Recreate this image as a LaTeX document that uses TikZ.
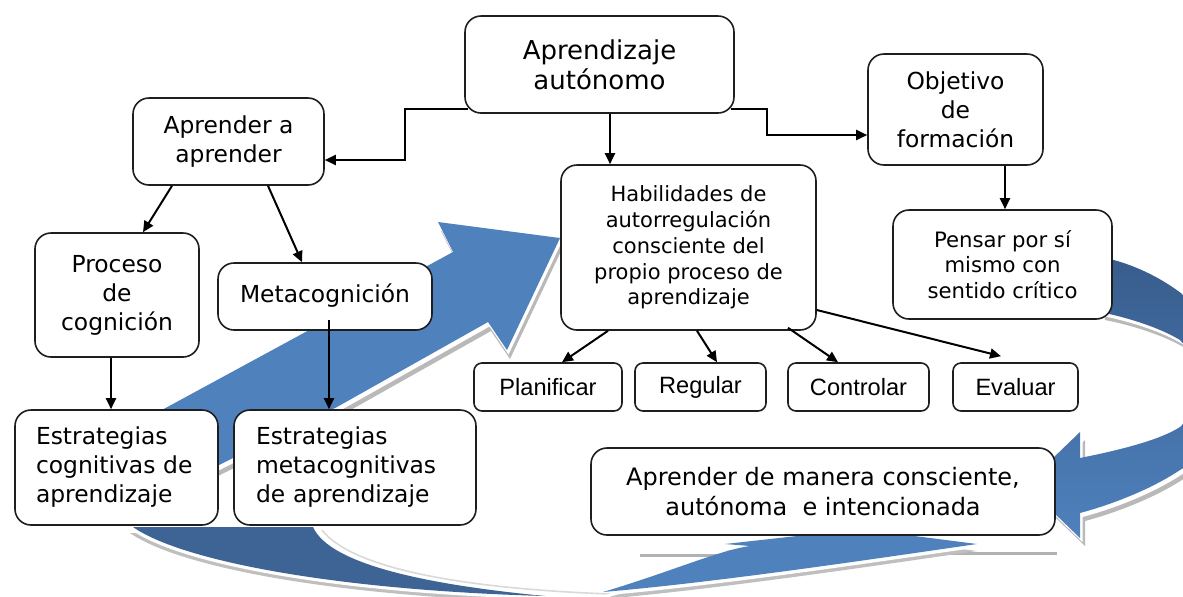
\documentclass[tikz,border=0pt]{standalone}
\usepackage{fontspec}
\setmainfont{DejaVu Sans}
\newfontfamily\arialf{Liberation Sans}
\usetikzlibrary{arrows.meta,calc}
\definecolor{blueA}{RGB}{79,129,189}
\definecolor{blueDark}{RGB}{56,92,140}
\definecolor{blueMid}{RGB}{62,100,150}
\definecolor{edgec}{RGB}{30,30,30}
\begin{document}
\begin{tikzpicture}[x=0.5pt,y=-0.5pt,
  box/.style={draw=edgec, line width=0.8pt, fill=white, rounded corners=8pt, inner sep=0pt, align=center, font=\fontsize{11.7}{14.5}\selectfont},
  small/.style={box, rounded corners=4pt, minimum height=24pt, font=\arialf\fontsize{11.8}{14}\selectfont},
  conn/.style={line width=1pt, -{Triangle[length=5.5pt,width=5pt]}},
  pathA/.style={insert path={(133,527) .. controls (180,560) and (330,590) .. (545,596) .. controls (430,585) and (330,565) .. (313,527) -- cycle}},
  pathB/.style={insert path={(603,592) .. controls (670,572) and (720,550) .. (750,546) -- (725,544) -- (860,529) -- (977,544) .. controls (880,558) and (720,582) .. (603,592) -- cycle}},
  pathC/.style={insert path={(125,430) -- (453,252) -- (438,222) -- (560,238) -- (507,350) -- (488,322) -- (337,407) -- (225,462) -- (160,495) -- cycle}},
  pathD/.style={insert path={(1095,256) .. controls (1160,266) and (1235,320) .. (1235,385) .. controls (1235,430) and (1200,460) .. (1180,470) .. controls (1150,490) and (1110,505) .. (1080,513) -- (1080,538) -- (1025,485) -- (1080,432) -- (1080,458) .. controls (1120,450) and (1160,440) .. (1180,427) .. controls (1200,410) and (1200,360) .. (1180,340) .. controls (1160,328) and (1130,318) .. (1100,312) -- cycle}}
]
\useasboundingbox (0,0) rectangle (1183,596);
\clip (0,0) rectangle (1183,596);
% blue circular arrows
\draw[gray!30, line width=0.8pt] (322,530) .. controls (350,566) and (450,588) .. (610,594);
\fill[gray!50, shift={(-3,6)}, pathA];
\fill[white, shift={(-1.5,3)}, pathA];
\fill[blueMid, pathA];
\draw[gray!60, line width=1.5pt] (640,555) -- (740,555);
\draw[gray!60, line width=1.5pt] (937,553) -- (1057,553);
\fill[gray!50, shift={(0,7)}, pathB];
\fill[white, shift={(0,3.5)}, pathB];
\fill[blueA, pathB];
\fill[gray!55, shift={(3,9)}, pathC];
\fill[white, shift={(1.5,4.5)}, pathC];
\fill[blueA, pathC];
\fill[gray!55, shift={(5,8)}, pathD];
\fill[white, shift={(2.5,4)}, pathD];
\shade[top color=blueDark, bottom color=blueA, pathD];
% nodes
\node[box, minimum width=134.5pt, minimum height=48.5pt, font=\fontsize{13}{15}\selectfont] (auto) at (599.5,64.5) {Aprendizaje\\autónomo};
\node[box, minimum width=95.5pt, minimum height=43.5pt] (apr) at (228.5,141.5) {Aprender a\\aprender};
\node[box, minimum width=87.5pt, minimum height=55.5pt] (obj) at (955.5,109.5) {Objetivo\\de\\formación};
\node[box, minimum width=127.5pt, minimum height=82.5pt, font=\fontsize{10.5}{12.9}\selectfont] (hab) at (688.5,247.5) {Habilidades de\\autorregulación\\consciente del\\propio proceso de\\aprendizaje};
\node[box, minimum width=109.5pt, minimum height=54.5pt, font=\fontsize{10.6}{12.8}\selectfont] (pen) at (1002.5,264.5) {Pensar por sí\\mismo con\\sentido crítico};
\node[box, minimum width=82pt, minimum height=62pt] (pro) at (117,295) {Proceso\\de\\cognición};
\node[box, minimum width=107pt, minimum height=33.5pt] (met) at (325,296.5) {\raisebox{3pt}{Metacognición}};
\node[box, text width=80.5pt, inner xsep=10.5pt, minimum height=57.5pt, align=left] (ecog) at (116.5,467.5) {Estrategias\\cognitivas de\\aprendizaje};
\node[box, text width=99pt, inner xsep=11pt, minimum height=57.5pt, align=left] (emet) at (355,467.5) {Estrategias\\metacognitivas\\de aprendizaje};
\node[small, minimum width=74pt] (pla) at (548,387) {Planificar};
\node[small, minimum width=65.5pt] (reg) at (700.5,387) {Regular};
\node[small, minimum width=70.5pt] (con) at (858.5,387) {Controlar};
\node[small, minimum width=62.5pt] (eva) at (1015.5,387) {Evaluar};
\node[box, minimum width=232pt, minimum height=43.5pt, font=\fontsize{12}{15}\selectfont] (man) at (823,491.5) {Aprender de manera consciente,\\autónoma\ \ e intencionada};
% connectors
\draw[conn] ($(auto.south west)+(4,-5)$) -- ++(-63,0) |- ($(apr.east)+(0,18.5)$);
\draw[conn] ($(auto.south east)+(-4,-5)$) -- ++(36,0) |- ($(obj.west)+(0,25.5)$);
\draw[conn] ($(auto.south)+(10.5,0)$) -- ($(hab.north)+(-78.5,0)$);
\draw[conn] ($(obj.south)+(49.5,0)$) -- ($(pen.north)+(2.5,0)$);
\draw[conn] ($(apr.south)+(-56.5,0)$) -- ($(pro.north)+(26,0)$);
\draw[conn] ($(apr.south)+(39.5,0)$) -- ($(met.north)+(-23,0)$);
\draw[conn] ($(pro.south)+(-6,0)$) -- ($(ecog.north)+(-5.5,0)$);
\draw[conn] ($(met.south)+(4,-11)$) -- ($(emet.north)+(-26,0)$);
\draw[conn] ($(hab.south)+(-80.5,0)$) -- ($(pla.north)+(14,0)$);
\draw[conn] ($(hab.south)+(8.5,0)$) -- ($(reg.north)+(16.5,0)$);
\draw[conn] ($(hab.south)+(99.5,-3)$) -- ($(con.north)+(-20.5,0)$);
\draw[conn] ($(hab.east)+(0,62.5)$) -- ($(eva.north)+(-14.5,-6)$);
\end{tikzpicture}
\end{document}
